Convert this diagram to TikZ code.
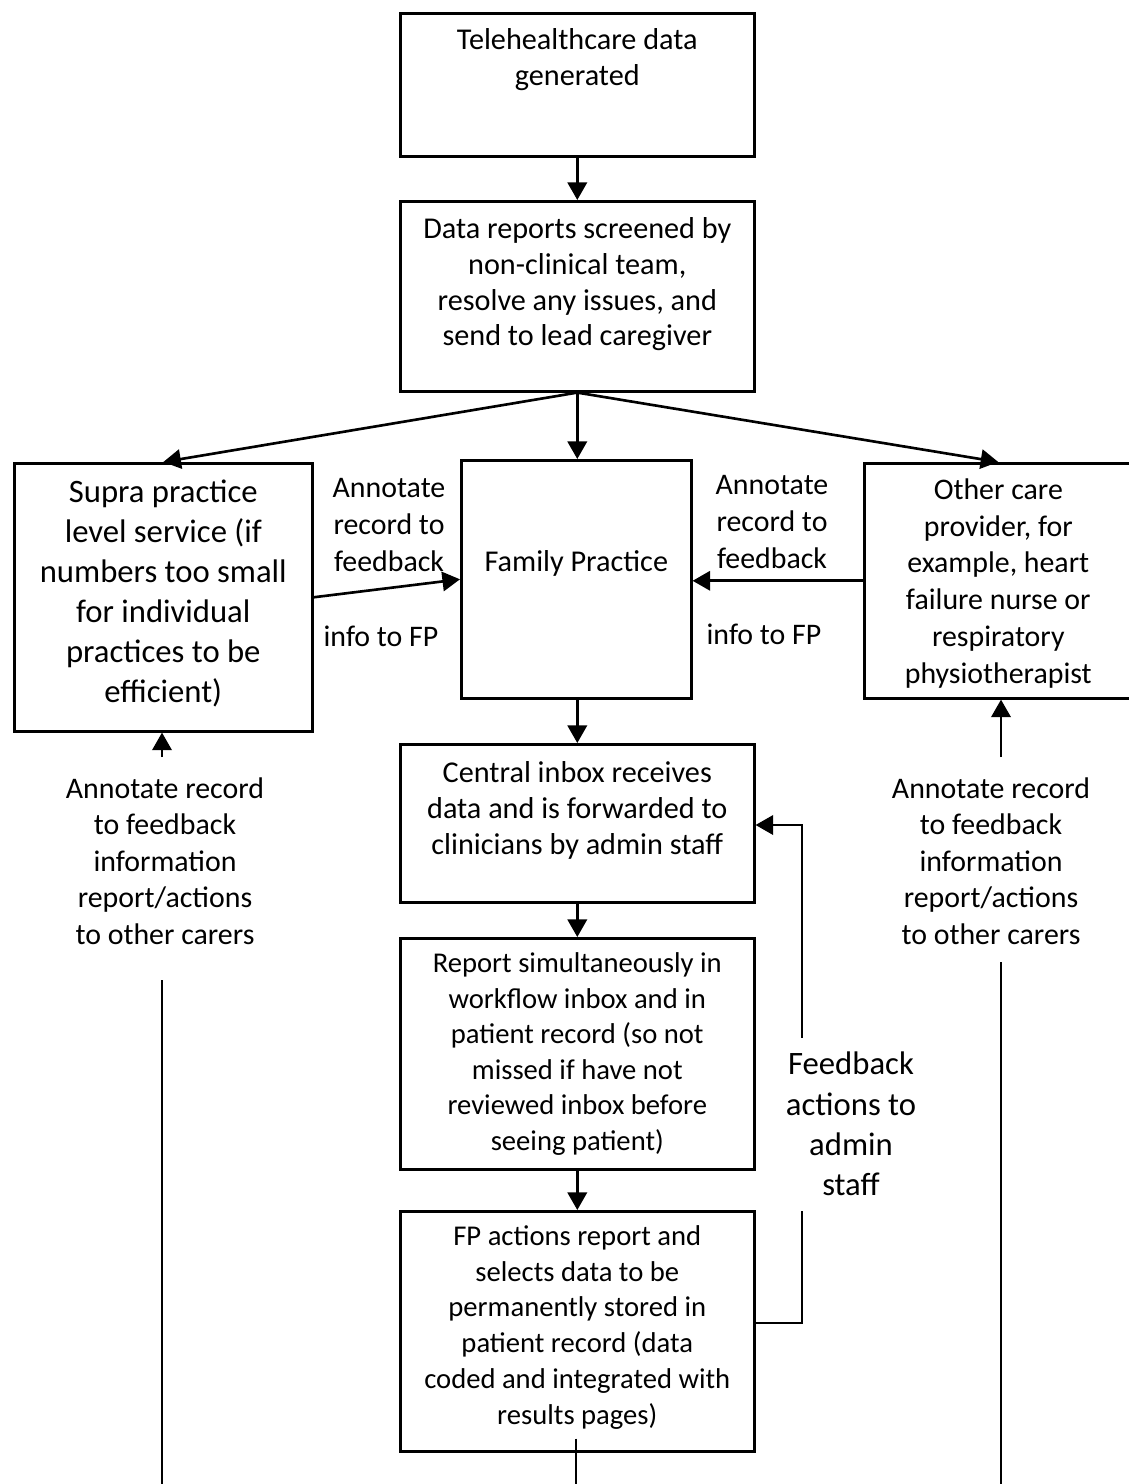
\documentclass[tikz,border=0pt]{standalone}
\usepackage{fontspec}
\setmainfont{Carlito}
\usetikzlibrary{arrows.meta, positioning, calc}

% text of a box: width, height, lift (twice the upward shift), lines
\newcommand{\boxtext}[4]{\parbox[c][#2][c]{#1}{\centering #4\par\vspace{#3}}}

\begin{document}
\begin{tikzpicture}[x=0.02cm, y=-0.02cm,
    box/.style={draw, line width=1.5pt, inner sep=0pt, anchor=north west, font=\fontsize{17.2}{20.4}\selectfont},
    lab/.style={align=center, inner sep=0pt, font=\fontsize{17}{21}\selectfont},
    arr/.style={line width=1.5pt, -{Triangle[length=10pt, width=11pt]}},
    link/.style={line width=1.5pt},
    long/.style={line width=1.1pt},
]
\useasboundingbox (0,0) rectangle (1129,1484);

\node[box] (tele) at (399,12) {\boxtext{7.08cm}{2.86cm}{1.02cm}{Telehealthcare data\\generated}};
\node[box] (screen) at (399,200) {\boxtext{7.08cm}{3.8cm}{0.48cm}{Data reports screened by\\non-clinical team,\\resolve any issues, and\\send to lead caregiver}};

\node[box, font=\fontsize{18.6}{22.7}\selectfont] (supra) at (13,462) {\boxtext{5.96cm}{5.36cm}{0.16cm}{Supra practice\\level service (if\\numbers too small\\for individual\\practices to be\\efficient)}};
\node[box] (fp) at (460,459) {\boxtext{4.6cm}{4.76cm}{0.64cm}{Family Practice}};
\node[box, font=\fontsize{17}{20.9}\selectfont] (other) at (863,462) {\boxtext{5.36cm}{4.7cm}{-0.1cm}{Other care\\provider, for\\example, heart\\failure nurse or\\respiratory\\physiotherapist}};

\node[box] (inbox) at (399,743) {\boxtext{7.08cm}{3.16cm}{0.52cm}{Central inbox receives\\data and is forwarded to\\clinicians by admin staff}};
\node[box, font=\fontsize{16.3}{20.2}\selectfont] (report) at (399,937) {\boxtext{7.08cm}{4.62cm}{0cm}{Report simultaneously in\\workflow inbox and in\\patient record (so not\\missed if have not\\reviewed inbox before\\seeing patient)}};
\node[box, font=\fontsize{16.3}{20.4}\selectfont] (fpact) at (399,1210) {\boxtext{7.08cm}{4.8cm}{0.16cm}{FP actions report and\\selects data to be\\permanently stored in\\patient record (data\\coded and integrated with\\results pages)}};

\node[lab] (annL) at (389,525) {Annotate\\record to\\feedback};
\node[lab] (infoL) at (381,636) {info to FP};
\node[lab] (annR) at (772,522) {Annotate\\record to\\feedback};
\node[lab] (infoR) at (764,634) {info to FP};
\node[lab, font=\fontsize{17}{20.8}\selectfont] (sideL) at (165,861) {Annotate record\\to feedback\\information\\report/actions\\to other carers};
\node[lab, font=\fontsize{17}{20.8}\selectfont] (sideR) at (991,861) {Annotate record\\to feedback\\information\\report/actions\\to other carers};
\node[lab, inner sep=8pt, font=\fontsize{18.6}{23}\selectfont] (fblab) at (851,1124) {Feedback\\actions to\\admin\\staff};

\coordinate (lbot) at (162,1484);
\coordinate (rbot) at (1001,1484);
\coordinate (mbot) at (576,1484);
\coordinate (fbr) at (802,1323);
\coordinate (fbt) at (802,825);

\draw[arr] (tele.south) -- (tele.south |- screen.north);
\draw[arr] (screen.south) -- (supra.north);
\draw[arr] (screen.south) -- (screen.south |- fp.north);
\draw[arr] (screen.south) -- (other.north);
\draw[arr] (supra.east) -- (fp.west);
\draw[arr] (other.west) -- (other.west -| fp.east);
\draw[arr] (inbox.north |- fp.south) -- (inbox.north);
\draw[arr] (inbox.south) -- (inbox.south |- report.north);
\draw[arr] (report.south) -- (report.south |- fpact.north);
\draw[link] ($(mbot |- fpact.south)+(0,-14)$) -- (mbot);

% feedback back to the admin staff
\draw[link] (fpact.east |- fbr) -- (fbr) -- (fbr |- fblab.south);
\draw[arr] (fbr |- fblab.north) -- (fbt) -- (inbox.east |- fbt);

% side notes
\draw[arr] ($(sideL.north -| lbot)+(0,-20)$) -- (lbot |- supra.south);
\draw[long] (lbot) -- ($(sideL.south -| lbot)+(0,35)$);
\draw[arr] ($(sideR.north -| rbot)+(0,-20)$) -- (rbot |- other.south);
\draw[long] (rbot) -- ($(sideR.south -| rbot)+(0,17)$);

\end{tikzpicture}
\end{document}
